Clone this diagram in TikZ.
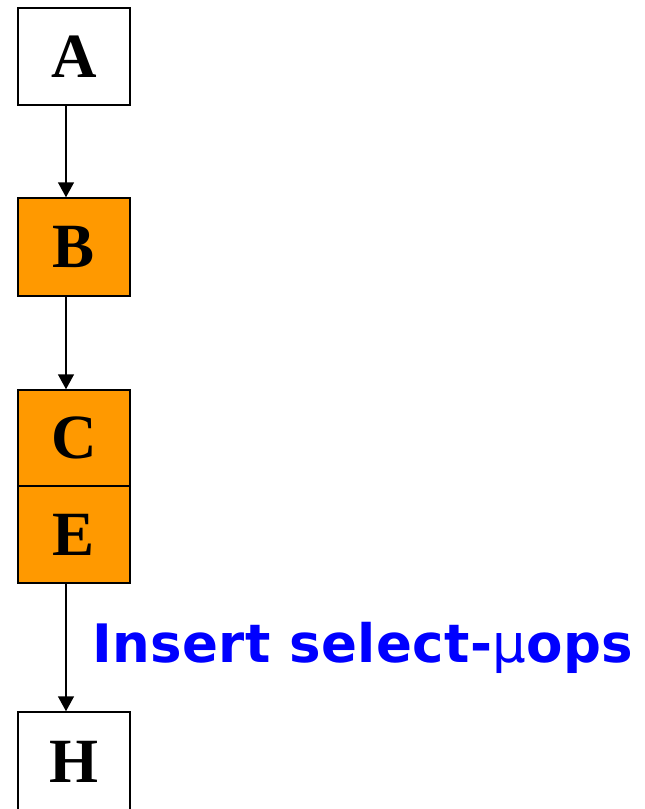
\documentclass[tikz,border=0pt]{standalone}
\usepackage{fontspec}
\usetikzlibrary{arrows.meta}
\newfontfamily\letterfont{Liberation Serif}
\newfontfamily\notefont[LetterSpace=0.8]{DejaVu Sans}
\definecolor{stageorange}{RGB}{255,153,0}
\definecolor{noteblue}{RGB}{0,0,255}
\tikzset{
  stagebox/.style={draw=black, line width=1.5pt, minimum width=112pt,
    inner sep=0pt, font=\letterfont\bfseries\fontsize{63}{63}\selectfont},
  flow/.style={line width=1.5pt, -{Triangle[width=16pt,length=15pt]}},
  note/.style={text=noteblue, inner sep=0pt, font=\notefont\fontsize{53}{53}\selectfont}
}
\begin{document}
\begin{tikzpicture}
\useasboundingbox (0,0) rectangle (645pt,-809pt);
\node[stagebox, fill=white, minimum height=97pt] (A) at (74pt,-56.5pt) {\raisebox{-2pt}{A}};
\node[stagebox, fill=stageorange, minimum height=98pt] (B) at (74pt,-247pt) {\raisebox{-2pt}{B}};
\node[stagebox, fill=stageorange, minimum height=96pt] (C) at (74pt,-438pt) {\raisebox{-2pt}{C}};
\node[stagebox, fill=stageorange, minimum height=97pt] (E) at (74pt,-534.5pt) {\raisebox{-2pt}{E}};
\node[stagebox, fill=white, minimum height=99pt] (H) at (74pt,-761.5pt) {\raisebox{-2pt}{H}};
\draw[flow] ([xshift=-8pt]A.south) -- ([xshift=-8pt]B.north);
\draw[flow] ([xshift=-8pt]B.south) -- ([xshift=-8pt]C.north);
\draw[flow] ([xshift=-8pt]E.south) -- ([xshift=-8pt]H.north);
\node[note, anchor=base west] (label) at (92pt,-662pt)
  {{\bfseries Insert select-}μ{\bfseries ops}};
\end{tikzpicture}
\end{document}
